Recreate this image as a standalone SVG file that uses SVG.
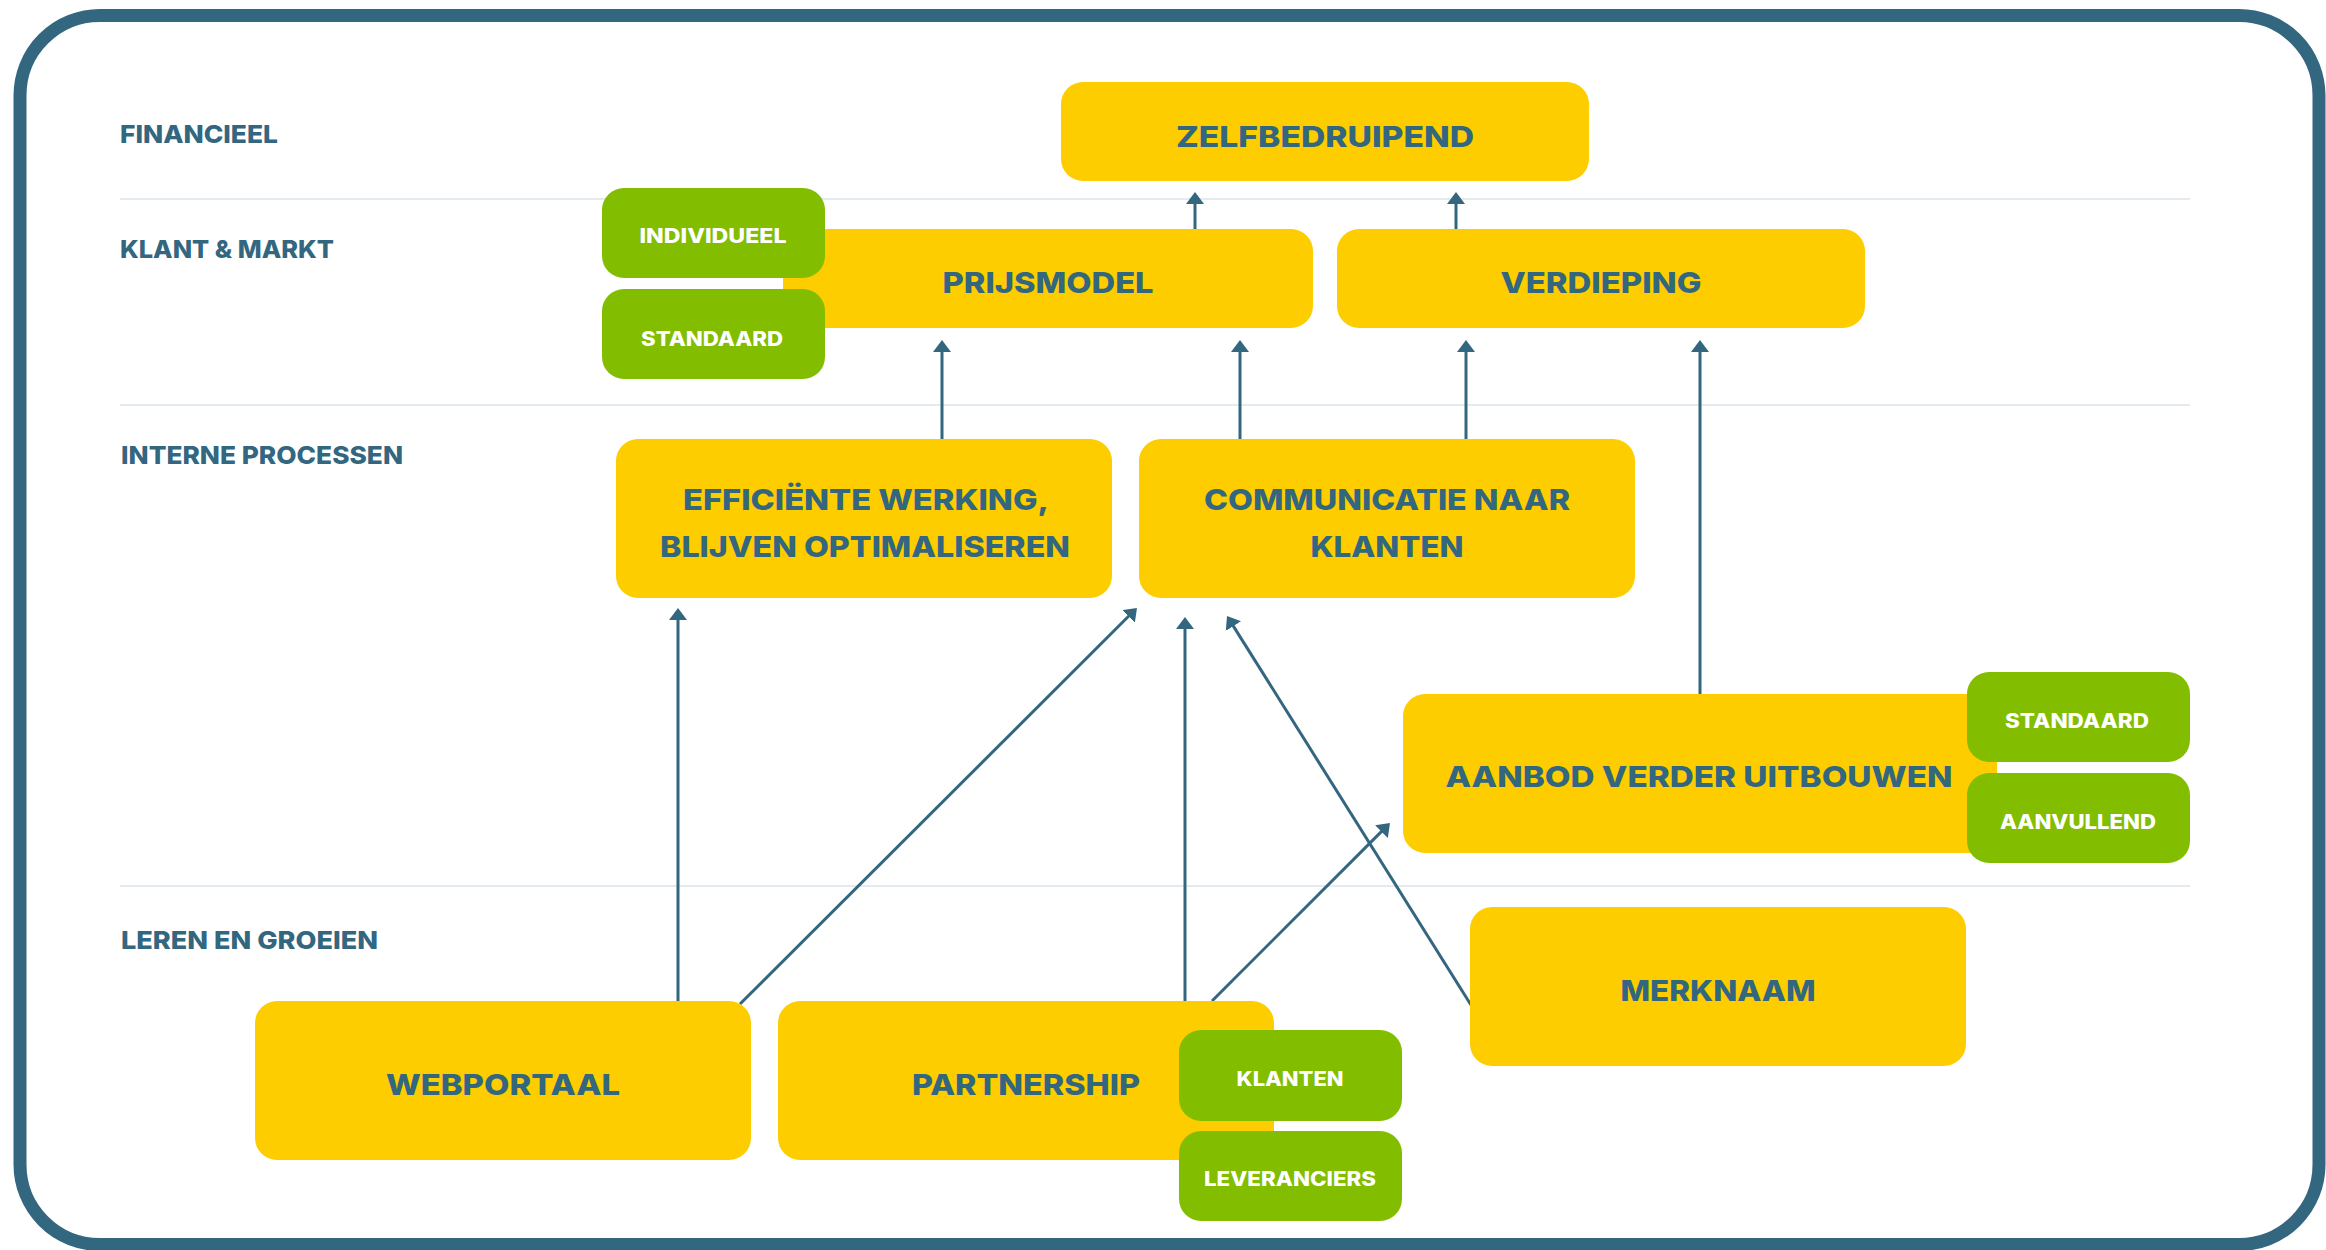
<svg xmlns="http://www.w3.org/2000/svg" width="2326" height="1250" viewBox="0 0 2326 1250">
<defs>
<style>
.frame{fill:#ffffff;stroke:#33667f;stroke-width:13}
.div{stroke:#e4ebf0;stroke-width:2;fill:none}
.lbl{font-family:Inter,"Open Sans","Liberation Sans",sans-serif;font-weight:800;font-size:25px;fill:#33667f}
.y{fill:#fdcd00}
.g{fill:#82bd00}
.yt{font-family:Inter,"Open Sans","Liberation Sans",sans-serif;font-weight:800;font-size:29px;fill:#33667f;text-anchor:middle}
.gt{font-family:Inter,"Open Sans","Liberation Sans",sans-serif;font-weight:800;font-size:20px;fill:#ffffff;text-anchor:middle}
.c{stroke:#33667f;stroke-width:3;fill:none;marker-end:url(#ah)}
</style>
<marker id="ah" markerUnits="userSpaceOnUse" markerWidth="13" markerHeight="18" viewBox="0 0 13 18" refX="3" refY="9" orient="auto">
<path d="M0,0 L12,9 L0,18 z" fill="#33667f"/>
</marker>
</defs>
<rect class="frame" x="20" y="15.5" width="2299" height="1229" rx="80" ry="80"/>
<g id="dividers">
<line class="div" x1="120" y1="199" x2="2190" y2="199"/>
<line class="div" x1="120" y1="405" x2="2190" y2="405"/>
<line class="div" x1="120" y1="886" x2="2190" y2="886"/>
</g>
<g id="labels">
<text class="lbl" x="120" y="143" textLength="158" lengthAdjust="spacingAndGlyphs">FINANCIEEL</text>
<text class="lbl" x="120" y="258" textLength="214" lengthAdjust="spacingAndGlyphs">KLANT &amp; MARKT</text>
<text class="lbl" x="121" y="464" textLength="282" lengthAdjust="spacingAndGlyphs">INTERNE PROCESSEN</text>
<text class="lbl" x="121" y="949" textLength="257" lengthAdjust="spacingAndGlyphs">LEREN EN GROEIEN</text>
</g>
<g id="connectors">
<line class="c" x1="1195" y1="229" x2="1195" y2="201"/>
<line class="c" x1="1456" y1="229" x2="1456" y2="201"/>
<line class="c" x1="942" y1="439" x2="942" y2="349"/>
<line class="c" x1="1240" y1="439" x2="1240" y2="349"/>
<line class="c" x1="1466" y1="439" x2="1466" y2="349"/>
<line class="c" x1="1700" y1="694" x2="1700" y2="349"/>
<line class="c" x1="678" y1="1001" x2="678" y2="617"/>
<line class="c" x1="740" y1="1004" x2="1130.6" y2="614.3"/>
<line class="c" x1="1185" y1="1001" x2="1185" y2="626"/>
<line class="c" x1="1212" y1="1001" x2="1383.6" y2="829.4"/>
<line class="c" x1="1471" y1="1005" x2="1231.8" y2="623.6"/>
</g>
<g id="zelfbedruipend">
<rect class="y" x="1061" y="82" width="528" height="99" rx="22"/>
<text class="yt" x="1325" y="147" textLength="298" lengthAdjust="spacingAndGlyphs">ZELFBEDRUIPEND</text>
</g>
<g id="prijsmodel">
<rect class="y" x="783" y="229" width="530" height="99" rx="22"/>
<text class="yt" x="1048" y="293" textLength="211" lengthAdjust="spacingAndGlyphs">PRIJSMODEL</text>
</g>
<g id="verdieping">
<rect class="y" x="1337" y="229" width="528" height="99" rx="22"/>
<text class="yt" x="1601" y="293" textLength="201" lengthAdjust="spacingAndGlyphs">VERDIEPING</text>
</g>
<g id="individueel">
<rect class="g" x="602" y="188" width="223" height="90" rx="22"/>
<text class="gt" x="713" y="243" textLength="147" lengthAdjust="spacingAndGlyphs">INDIVIDUEEL</text>
</g>
<g id="standaard-prijs">
<rect class="g" x="602" y="289" width="223" height="90" rx="22"/>
<text class="gt" x="712" y="346" textLength="142" lengthAdjust="spacingAndGlyphs">STANDAARD</text>
</g>
<g id="efficiente-werking">
<rect class="y" x="616" y="439" width="496" height="159" rx="22"/>
<text class="yt" x="866" y="510" textLength="366" lengthAdjust="spacingAndGlyphs">EFFICIËNTE WERKING,</text>
<text class="yt" x="865" y="557" textLength="410" lengthAdjust="spacingAndGlyphs">BLIJVEN OPTIMALISEREN</text>
</g>
<g id="communicatie">
<rect class="y" x="1139" y="439" width="496" height="159" rx="22"/>
<text class="yt" x="1387" y="510" textLength="366" lengthAdjust="spacingAndGlyphs">COMMUNICATIE NAAR</text>
<text class="yt" x="1387" y="557" textLength="153" lengthAdjust="spacingAndGlyphs">KLANTEN</text>
</g>
<g id="aanbod">
<rect class="y" x="1403" y="694" width="594" height="159" rx="22"/>
<text class="yt" x="1699" y="787" textLength="507" lengthAdjust="spacingAndGlyphs">AANBOD VERDER UITBOUWEN</text>
</g>
<g id="standaard-aanbod">
<rect class="g" x="1967" y="672" width="223" height="90" rx="22"/>
<text class="gt" x="2077" y="728" textLength="144" lengthAdjust="spacingAndGlyphs">STANDAARD</text>
</g>
<g id="aanvullend">
<rect class="g" x="1967" y="773" width="223" height="90" rx="22"/>
<text class="gt" x="2078" y="829" textLength="156" lengthAdjust="spacingAndGlyphs">AANVULLEND</text>
</g>
<g id="merknaam">
<rect class="y" x="1470" y="907" width="496" height="159" rx="22"/>
<text class="yt" x="1718" y="1001" textLength="195" lengthAdjust="spacingAndGlyphs">MERKNAAM</text>
</g>
<g id="webportaal">
<rect class="y" x="255" y="1001" width="496" height="159" rx="22"/>
<text class="yt" x="503" y="1095" textLength="234" lengthAdjust="spacingAndGlyphs">WEBPORTAAL</text>
</g>
<g id="partnership">
<rect class="y" x="778" y="1001" width="496" height="159" rx="22"/>
<text class="yt" x="1026" y="1095" textLength="228" lengthAdjust="spacingAndGlyphs">PARTNERSHIP</text>
</g>
<g id="klanten">
<rect class="g" x="1179" y="1030" width="223" height="91" rx="22"/>
<text class="gt" x="1290" y="1086" textLength="107" lengthAdjust="spacingAndGlyphs">KLANTEN</text>
</g>
<g id="leveranciers">
<rect class="g" x="1179" y="1131" width="223" height="90" rx="22"/>
<text class="gt" x="1290" y="1186" textLength="172" lengthAdjust="spacingAndGlyphs">LEVERANCIERS</text>
</g>
</svg>
